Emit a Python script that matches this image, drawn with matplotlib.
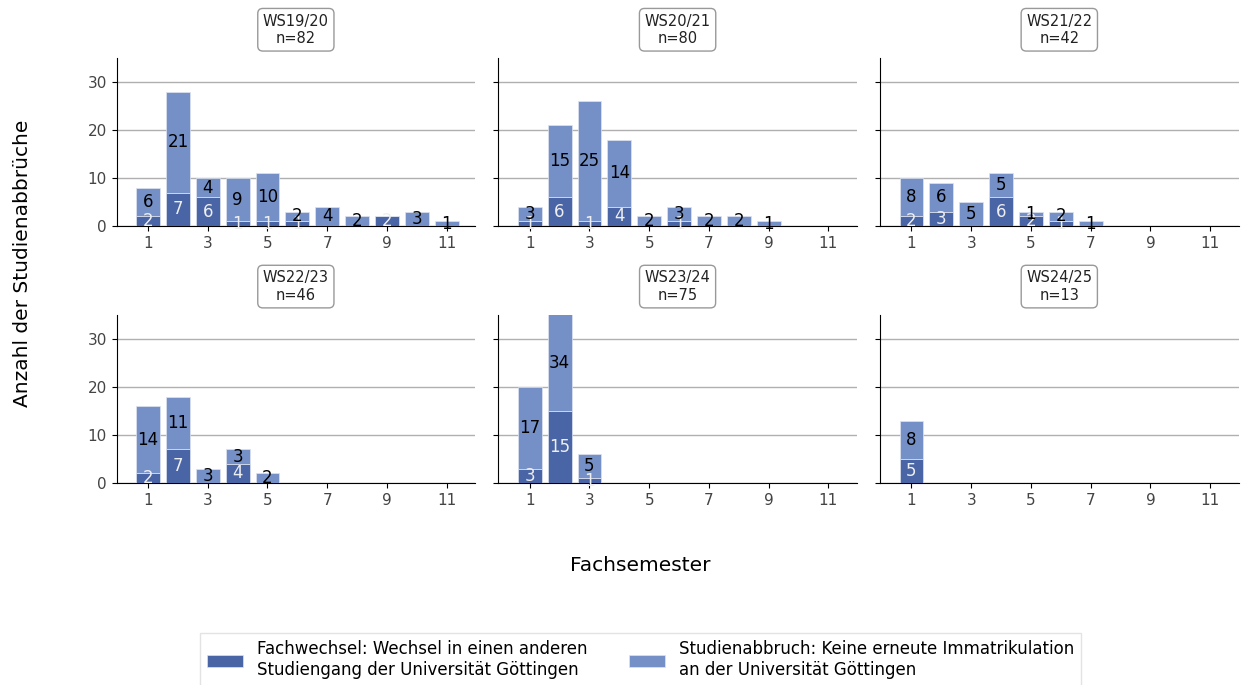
import matplotlib.pyplot as plt
import numpy as np

# Daten
semester = np.arange(1, 12)
kohorten = ['WS19/20', 'WS20/21', 'WS21/22', 'WS22/23', 'WS23/24', 'WS24/25']
# Fachwechsel (dunkel) je Fachsemester 1..11
wechsel = [
    [2, 7, 6, 1, 1, 1, 0, 0, 2, 0, 0],
    [1, 6, 1, 4, 0, 1, 0, 0, 0, 0, 0],
    [2, 3, 0, 6, 2, 1, 0, 0, 0, 0, 0],
    [2, 7, 0, 4, 0, 0, 0, 0, 0, 0, 0],
    [3, 15, 1, 0, 0, 0, 0, 0, 0, 0, 0],
    [5, 0, 0, 0, 0, 0, 0, 0, 0, 0, 0],
]
# Studienabbruch (hell)
abbruch = [
    [6, 21, 4, 9, 10, 2, 4, 2, 0, 3, 1],
    [3, 15, 25, 14, 2, 3, 2, 2, 1, 0, 0],
    [8, 6, 5, 5, 1, 2, 1, 0, 0, 0, 0],
    [14, 11, 3, 3, 2, 0, 0, 0, 0, 0, 0],
    [17, 34, 5, 0, 0, 0, 0, 0, 0, 0, 0],
    [8, 0, 0, 0, 0, 0, 0, 0, 0, 0, 0],
]

dunkel = '#4a65a6'
hell = '#7490c6'

fig, axes = plt.subplots(2, 3, figsize=(12.41, 6.85), dpi=100, sharex=True, sharey=True)
fig.subplots_adjust(left=0.094, right=0.998, top=0.915, bottom=0.295, wspace=0.065, hspace=0.53)

for i, ax in enumerate(axes.flat):
    w = np.array(wechsel[i])
    a = np.array(abbruch[i])
    b1 = ax.bar(semester, w, width=0.8, color=dunkel, edgecolor='#dde3f0', linewidth=0.5, zorder=3,
                label='Fachwechsel: Wechsel in einen anderen\nStudiengang der Universität Göttingen')
    b2 = ax.bar(semester, a, bottom=w, width=0.8, color=hell, edgecolor='#dde3f0', linewidth=0.5, zorder=3,
                label='Studienabbruch: Keine erneute Immatrikulation\nan der Universität Göttingen')
    ax.bar_label(b1, labels=[str(v) if v > 0 else '' for v in w], label_type='center',
                 color='#eeeeee', fontsize=12, zorder=4)
    ax.bar_label(b2, labels=[str(v) if v > 0 else '' for v in a], label_type='center',
                 color='black', fontsize=12, zorder=4)
    ax.set_title(f'{kohorten[i]}\nn={w.sum() + a.sum()}', fontsize=10.5, pad=11, color='#222222',
                 bbox=dict(boxstyle='round,pad=0.35', facecolor='white', edgecolor='#999999'))
    ax.set_ylim(0, 35)
    ax.set_xlim(-0.05, 11.95)
    ax.set_xticks([1, 3, 5, 7, 9, 11])
    ax.set_yticks([0, 10, 20, 30])
    ax.yaxis.grid(True, color='#b0b0b0', linewidth=1, zorder=0)
    ax.spines['top'].set_visible(False)
    ax.spines['right'].set_visible(False)
    ax.tick_params(labelsize=11, labelcolor='#444444')
    ax.tick_params(axis='x', labelbottom=True)

fig.text(0.018, 0.615, 'Anzahl der Studienabbrüche', rotation=90, ha='center', va='center', fontsize=14.5)
fig.text(0.516, 0.175, 'Fachsemester', ha='center', va='center', fontsize=14.5)

handles, labels = axes[0, 0].get_legend_handles_labels()
fig.legend(handles, labels, loc='lower center', bbox_to_anchor=(0.516, -0.013), ncol=2,
           fontsize=12, frameon=True, fancybox=False, edgecolor='#dddddd',
           handlelength=2.2, columnspacing=2.5)

fig.savefig('out.png', dpi=100)
